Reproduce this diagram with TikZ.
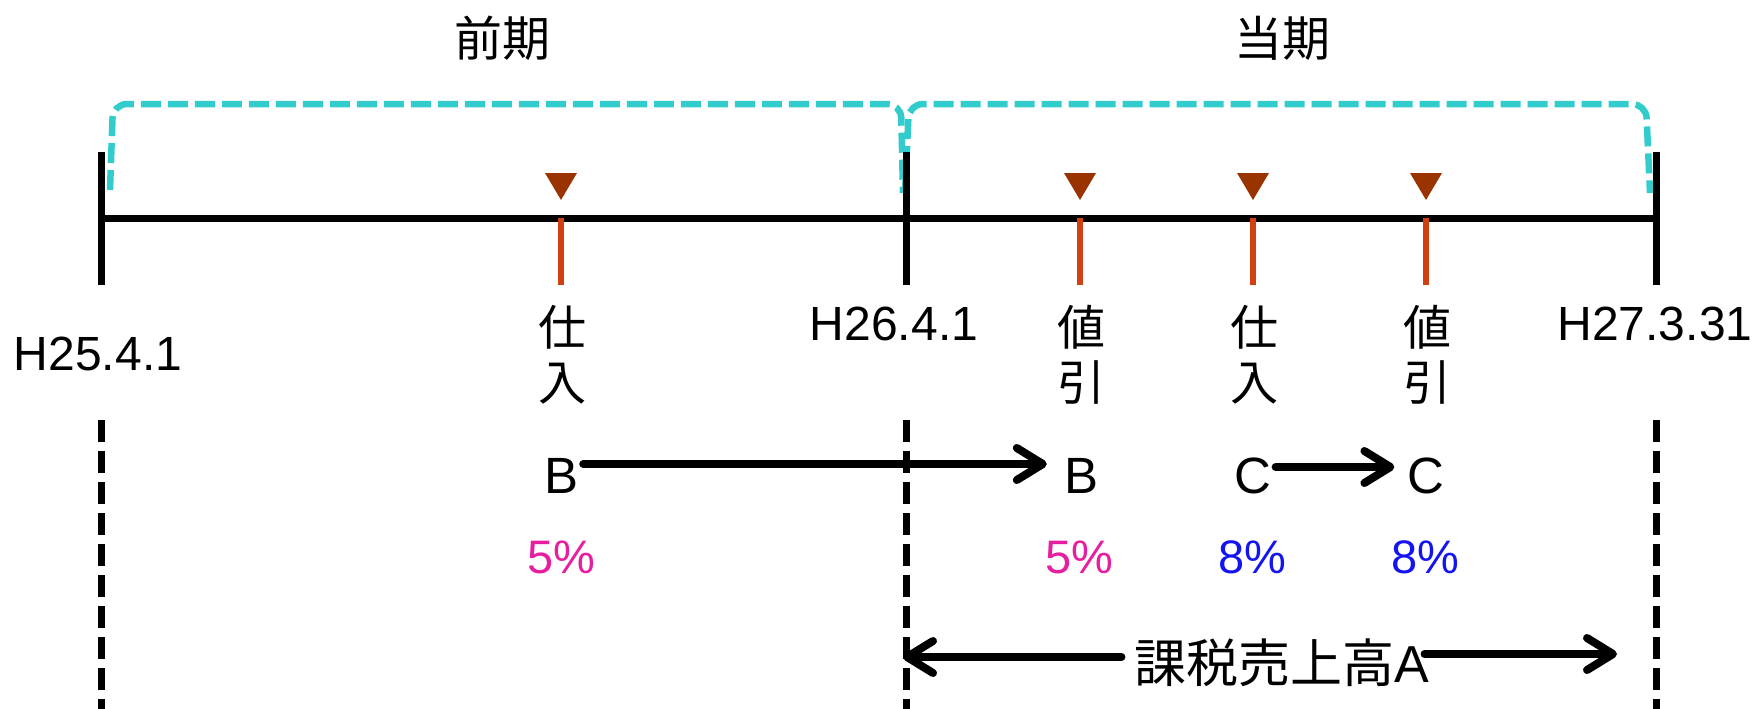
\documentclass[tikz,border=0pt]{standalone}
\usepackage{fontspec}
\setmainfont{Liberation Sans}
\newfontfamily\jp{Noto Sans CJK JP}
\usetikzlibrary{arrows.meta}
\definecolor{cyanB}{RGB}{51,204,204}
\definecolor{tri}{RGB}{153,51,0}
\definecolor{redT}{RGB}{208,64,16}
\definecolor{mag}{RGB}{230,30,160}
\definecolor{blu}{RGB}{20,20,240}
\begin{document}
\begin{tikzpicture}[x=1pt,y=-1pt,
  axis/.style={line width=7pt},
  tickline/.style={line width=7pt},
  rtick/.style={line width=6pt, draw=redT},
  vdash/.style={line width=7pt, dash pattern=on 22pt off 9pt},
  bracket/.style={draw=cyanB, line width=6.5pt, dash pattern=on 20pt off 7pt, rounded corners=14pt},
  marker/.style={fill=tri, draw=none},
  lat/.style={inner sep=0pt, font=\fontsize{48}{58}\selectfont},
  jpl/.style={inner sep=0pt, align=center, font=\jp\fontsize{48}{55}\selectfont},
  letter/.style={inner ysep=0pt, inner xsep=4pt, font=\fontsize{51}{60}\selectfont},
  pct/.style={inner sep=0pt, font=\fontsize{47}{56}\selectfont},
  arr/.style={line width=8pt, line cap=round, -{Straight Barb[length=26pt, width=32pt, line cap=round, line join=round]}},
]
\useasboundingbox (0,0) rectangle (1756,709);

% period brackets
\draw[bracket] (110,190) -- (113,104) -- (901,104) -- (903,193);
\draw[bracket] (905,193) -- (909,104) -- (1646,104) -- (1650,193);

% period labels
\node[jpl] (zenki) at (502,38) {前期};
\node[jpl] (toki) at (1282,38) {当期};

% main axis and end ticks
\coordinate (a0) at (101,218);
\coordinate (a1) at (906,218);
\coordinate (a2) at (1656,218);
\draw[axis] (a0) -- (a2);
\foreach \c in {a0,a1,a2}{
  \draw[tickline] ([yshift=66pt]\c) -- ([yshift=-67pt]\c);
  \draw[vdash] ([yshift=-202pt]\c) -- ([yshift=-494pt]\c);
}

% event ticks and markers
\foreach \x in {561,1080,1253,1426}{
  \draw[rtick] (\x,218) -- (\x,285);
  \fill[marker] (\x-16,173) -- (\x+16,173) -- (\x,200) -- cycle;
}

% date labels
\node[lat] (d0) at (98,354) {H25.4.1};
\node[lat] (d1) at (894,324) {H26.4.1};
\node[lat] (d2) at (1655,324) {H27.3.31};

% event labels
\node[jpl] (e1) at (562,355) {仕\\入};
\node[jpl] (e2) at (1081,355) {値\\引};
\node[jpl] (e3) at (1254,355) {仕\\入};
\node[jpl] (e4) at (1427,355) {値\\引};

% items
\node[letter] (B1) at (562,476) {B};
\node[letter] (B2) at (1081,476) {B};
\node[letter] (C1) at (1253,476) {C};
\node[letter] (C2) at (1426,476) {C};
\draw[arr, shorten >=13pt] ([yshift=12pt]B1.east) -- ([yshift=12pt]B2.west);
\draw[arr, shorten >=9pt] ([yshift=9pt]C1.east) -- ([yshift=9pt]C2.west);

% rates
\node[pct, text=mag] (p1) at (561,557) {5\%};
\node[pct, text=mag] (p2) at (1079,557) {5\%};
\node[pct, text=blu] (p3) at (1252,557) {8\%};
\node[pct, text=blu] (p4) at (1425,557) {8\%};

% taxable sales
\node[inner ysep=0pt, inner xsep=13pt, font=\fontsize{52}{60}\selectfont] (sales) at (1282,663) {{\jp 課税売上高}A};
\coordinate (sL) at (903,657);
\coordinate (sR) at (1617,654);
\draw[arr] ([yshift=6pt]sales.west) -- (sL);
\draw[arr, shorten <=-18pt] ([yshift=9pt]sales.east) -- (sR);
\end{tikzpicture}
\end{document}
